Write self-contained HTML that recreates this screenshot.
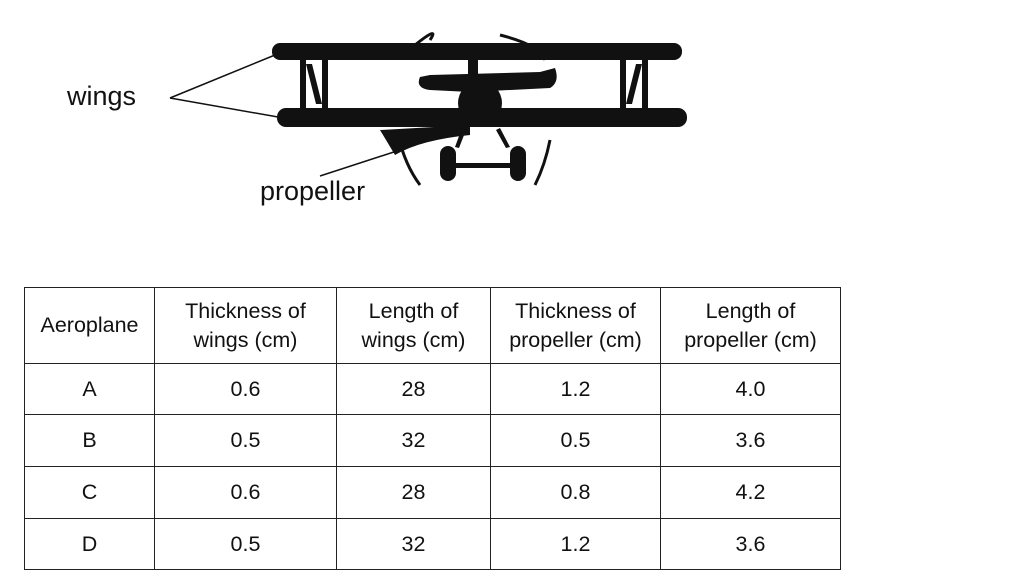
<!DOCTYPE html>
<html><head><meta charset="utf-8"><style>
body{margin:0;width:1016px;height:586px;background:#fff;position:relative;overflow:hidden;font-family:"Liberation Sans",sans-serif;color:#111}
.lbl{position:absolute;font-size:27px}
table{position:absolute;left:24px;top:287px;border-collapse:collapse;font-size:21.5px}
td{border:1.5px solid #222;text-align:center;padding:0;line-height:29px}
</style></head><body>
<div class="lbl" style="left:67px;top:81px">wings</div>
<div class="lbl" style="left:260px;top:176px">propeller</div>
<svg width="1016" height="250" style="position:absolute;left:0;top:0">
<g stroke="#111" stroke-width="1.5" fill="none">
<line x1="170" y1="98" x2="275" y2="55"/><line x1="170" y1="98" x2="278" y2="117"/>
<line x1="320" y1="176" x2="400" y2="150"/>
<path d="M415 45 Q440 25 430 40" stroke-width="3"/><path d="M500 35 Q540 45 545 60" stroke-width="3"/>
<path d="M398 135 Q405 165 420 185" stroke-width="3"/><path d="M550 140 Q545 165 535 185" stroke-width="3"/>
</g>
<g fill="#111">
<rect x="272" y="43" width="410" height="17" rx="8"/>
<rect x="277" y="108" width="410" height="19" rx="9"/>
<rect x="300" y="60" width="6" height="50"/><rect x="322" y="60" width="6" height="50"/>
<polygon points="306,64 312,64 322,104 316,104"/>
<rect x="620" y="60" width="6" height="50"/><rect x="642" y="60" width="6" height="50"/>
<polygon points="626,104 632,104 642,64 636,64"/>
<rect x="468" y="58" width="10" height="20"/>
<path d="M420 77 Q415 88 430 90 L470 92 L550 88 Q560 82 555 68 L540 72 L430 75 Z"/>
<circle cx="480" cy="103" r="22"/>
<path d="M380 130 L470 125 L470 135 Q420 140 395 155 Z"/>
<rect x="440" y="146" width="16" height="35" rx="8"/><rect x="510" y="146" width="16" height="35" rx="8"/>
<rect x="450" y="163" width="65" height="5"/>
<polygon points="455,147 462,128 466,130 459,148"/><polygon points="510,147 500,128 496,130 506,148"/>
</g>
</svg>
<table>
<tr style="height:76px"><td style="width:129px">Aeroplane</td><td style="width:181px">Thickness of<br>wings (cm)</td><td style="width:153px">Length of<br>wings (cm)</td><td style="width:169px">Thickness of<br>propeller (cm)</td><td style="width:179px">Length of<br>propeller (cm)</td></tr>
<tr style="height:51px"><td>A</td><td>0.6</td><td>28</td><td>1.2</td><td>4.0</td></tr>
<tr style="height:52px"><td>B</td><td>0.5</td><td>32</td><td>0.5</td><td>3.6</td></tr>
<tr style="height:52px"><td>C</td><td>0.6</td><td>28</td><td>0.8</td><td>4.2</td></tr>
<tr style="height:51px"><td>D</td><td>0.5</td><td>32</td><td>1.2</td><td>3.6</td></tr>
</table>
</body></html>
